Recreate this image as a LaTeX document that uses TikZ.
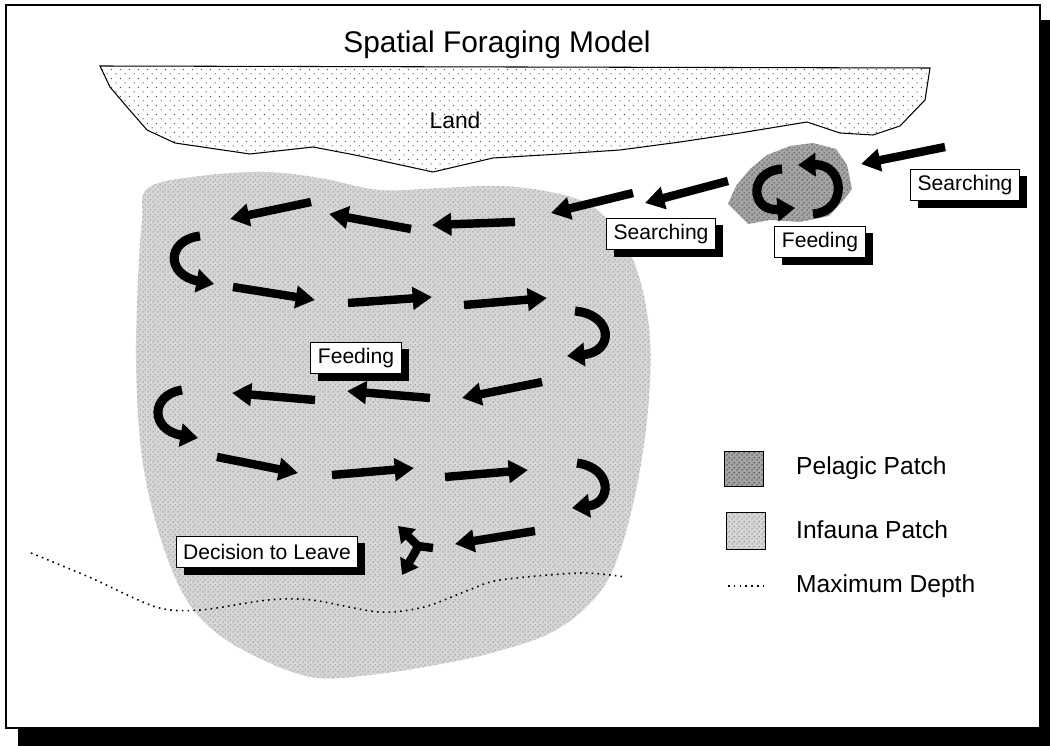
\documentclass[tikz,border=0pt]{standalone}
\usepackage{fontspec}
\setmainfont{Liberation Sans}
\usetikzlibrary{arrows.meta,shadows,patterns.meta}
\definecolor{infaunafill}{HTML}{D6D6D6}
\definecolor{pelagicfill}{HTML}{A4A4A4}
\definecolor{landdot}{HTML}{4A4A4A}

\tikzdeclarepattern{
  name=landdots, type=uncolored,
  bounding box={(0pt,0pt) and (5pt,5pt)},
  tile size={(5pt,5pt)},
  code={\fill (1.25pt,1.25pt) circle (0.4pt); \fill (3.75pt,3.75pt) circle (0.4pt);}
}
\tikzdeclarepattern{
  name=finedots, type=uncolored,
  bounding box={(0pt,0pt) and (2.6pt,2.6pt)},
  tile size={(2.6pt,2.6pt)},
  code={\fill (0.65pt,0.65pt) circle (0.45pt); \fill (1.95pt,1.95pt) circle (0.45pt);}
}

\begin{document}
\begin{tikzpicture}[x=0.02cm, y=-0.02cm,
  every node/.style={font=\fontsize{12}{14}\selectfont},
  tag/.style={draw, fill=white, line width=0.6pt, inner xsep=4pt, minimum height=18pt,
    drop shadow={shadow xshift=0.15cm, shadow yshift=-0.14cm, fill=black, opacity=1}},
  move/.style={line width=4.8pt, -{Triangle[length=11pt, width=12.5pt]}},
  turn/.style={line width=5.2pt, -{Triangle[length=10pt, width=13pt]}},
  fork/.style={line width=4.8pt, -{Triangle[length=8.5pt, width=11.5pt]}},
  legtxt/.style={font=\fontsize{14}{16}\selectfont, anchor=west},
  infauna/.style={preaction={fill=infaunafill}, pattern=finedots, pattern color=black!45},
  pelagic/.style={preaction={fill=pelagicfill}, pattern=finedots, pattern color=black!75},
  land/.style={draw, line width=0.6pt, fill=white, postaction={pattern=landdots, pattern color=landdot}},
  depth/.style={line width=0.9pt, dash pattern=on 0.9pt off 2.4pt}
]
\useasboundingbox (0,0) rectangle (1050,746);
% frame with its shadow
\fill[black] (18,20) rectangle (1050,746);
\draw[fill=white, line width=1.2pt] (6,5) rectangle (1040,728);
\node[font=\fontsize{17}{19}\selectfont] (title) at (497,45) {Spatial Foraging Model};

% land
\path[land] (100,66) -- (930,68) -- (925,100) -- (900,126) -- (873,135) -- (840,133)
  -- (807,122) -- (740,133) -- (680,142) -- (620,150) -- (560,154) -- (493,158)
  -- (433,172) -- (355,155) -- (313,147) -- (250,154) -- (175,143) -- (147,130)
  -- (127,107) -- (110,87) -- cycle;
\node[font=\fontsize{13}{15}\selectfont] (land) at (455,120) {Land};

% patches
\path[infauna] plot[smooth cycle, tension=0.6] coordinates {(148,188) (200,176) (265,172)
  (320,178) (380,190) (440,188) (500,186) (550,192) (590,205) (620,235) (640,280)
  (650,340) (648,410) (638,480) (622,545) (600,592) (556,630) (495,652) (430,666)
  (370,675) (318,678) (272,664) (222,637) (190,605) (168,560) (150,500) (140,440)
  (136,360) (138,280) (142,220)};
\path[pelagic] (728,204) -- (736,186) -- (750,169) -- (767,155) -- (790,146) -- (813,143)
  -- (836,149) -- (847,165) -- (852,189) -- (842,202) -- (829,216) -- (800,222)
  -- (770,220) -- (748,224) -- cycle;

% maximum depth
\draw[depth] plot[smooth] coordinates {(31,553) (89,577) (156,607) (200,610) (268,600)
  (312,600) (379,612) (424,607) (469,590) (500,580) (580,573) (625,577)};

% searching
\draw[move] (945,147) -- (861,164);
\draw[move] (728,181) -- (645,203);
\draw[move] (633,193) -- (551,213);
% feeding on pelagic patch
\draw[turn] (782,169) .. controls (748,171) and (750,212) .. (795,208);
\draw[turn] (813,214) .. controls (848,211) and (845,164) .. (798,165);
% feeding on infauna patch
\draw[move] (515,222) -- (432,225);
\draw[move] (411,229) -- (329,214);
\draw[move] (311,202) -- (230,219);
\draw[turn] (200,236) .. controls (166,240) and (166,275) .. (214,284);
\draw[move] (233,287) -- (315,300);
\draw[move] (348,303) -- (432,297);
\draw[move] (464,305) -- (547,298);
\draw[turn] (575,311) .. controls (614,315) and (614,352) .. (567,356);
\draw[move] (542,382) -- (462,398);
\draw[move] (430,398) -- (347,391);
\draw[move] (315,400) -- (232,393);
\draw[turn] (182,390) .. controls (150,395) and (150,430) .. (198,438);
\draw[move] (217,457) -- (298,473);
\draw[move] (332,475) -- (414,468);
\draw[move] (445,477) -- (528,470);
\draw[turn] (577,463) .. controls (613,468) and (612,503) .. (572,508);
\draw[move] (535,531) -- (455,544);
% decision to leave
\draw[fork] (433,548) -- (418,546) -- (398,526);
\draw[fork] (418,547) -- (402,575);

% labels
\node[tag] (searchout) at (965,185) {Searching};
\node[tag] (feedpel) at (820,242) {Feeding};
\node[tag] (searchin) at (661,234) {Searching};
\node[tag] (feedinf) at (356,358) {Feeding};
\node[tag] (leave) at (267,552) {Decision to Leave};

% legend
\path[pelagic, draw, line width=0.5pt] (724,451) rectangle (763,486);
\node[legtxt] (legpel) at (790,468) {Pelagic Patch};
\path[infauna, draw, line width=0.5pt] (726,512) rectangle (765,549);
\node[legtxt] (leginf) at (790,530) {Infauna Patch};
\draw[depth] (728,586) -- (764,586);
\node[legtxt] (legdep) at (790,586) {Maximum Depth};
\end{tikzpicture}
\end{document}
